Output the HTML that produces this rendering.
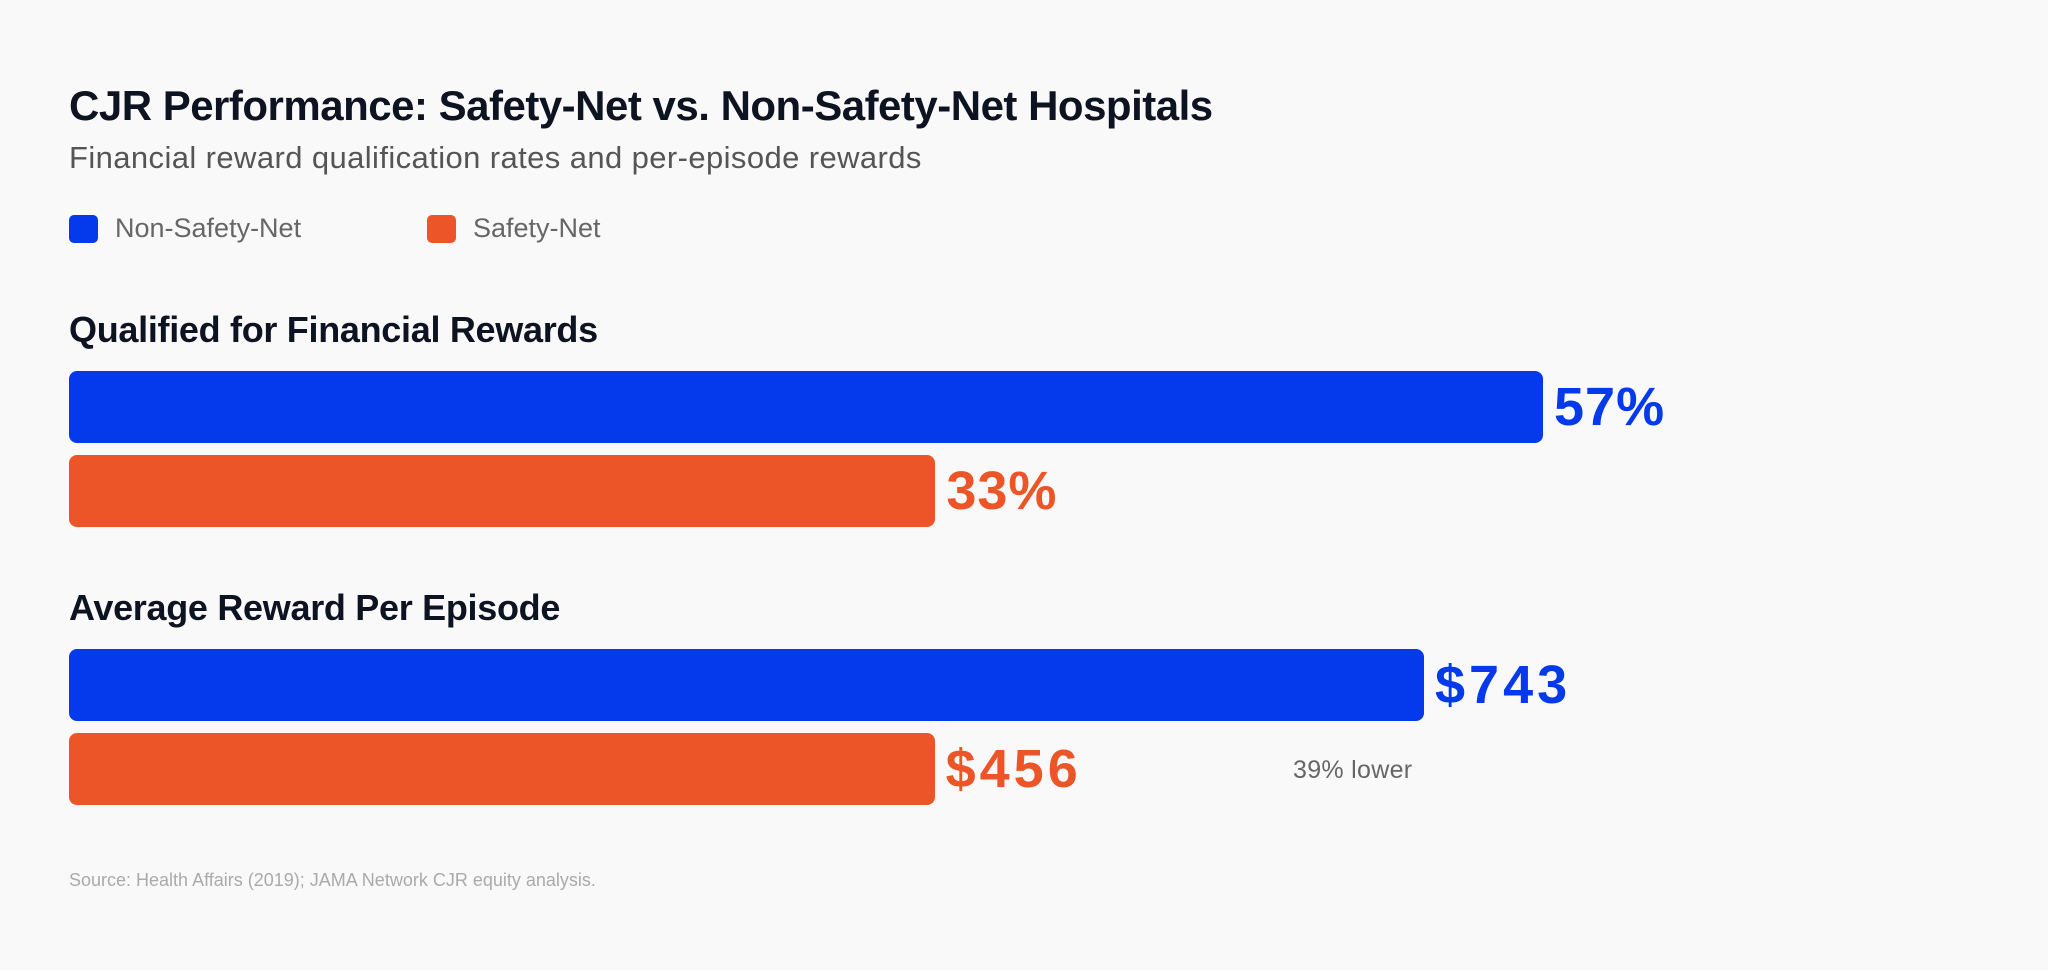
<!DOCTYPE html>
<html><head><meta charset="utf-8"><style>
body{margin:0;width:2048px;height:970px;background:#f9f9f9;font-family:"Liberation Sans",sans-serif;position:relative;overflow:hidden}
.t{position:absolute;white-space:nowrap}
</style></head><body>
<div class="t" style="left:69px;top:82px;font-size:42px;font-weight:bold;color:#0d1321;letter-spacing:-0.5px">CJR Performance: Safety-Net vs. Non-Safety-Net Hospitals</div>
<div class="t" style="left:69px;top:140px;font-size:31px;letter-spacing:0.4px;color:#555">Financial reward qualification rates and per-episode rewards</div>
<div>
<div class="t" style="left:69px;top:215px;width:29px;height:28px;border-radius:5px;background:#0439ec"></div>
<div class="t" style="left:115px;top:213px;font-size:27px;color:#666">Non-Safety-Net</div>
<div class="t" style="left:427px;top:215px;width:29px;height:28px;border-radius:5px;background:#eb5527"></div>
<div class="t" style="left:473px;top:213px;font-size:27px;color:#666">Safety-Net</div>
</div>
<div id="chart"></div>
<div class="t" style="left:1293px;top:756px;font-size:25px;letter-spacing:0.3px;color:#666">39% lower</div>
<div class="t" style="left:69px;top:870px;font-size:18px;color:#aaa">Source: Health Affairs (2019); JAMA Network CJR equity analysis.</div>
<script>
const sections = ["Qualified for Financial Rewards","Average Reward Per Episode"];
const nonSafetyNet = [57, 743];
const safetyNet = [33, 456];
const valueLabels = [["57%","33%"],["$743","$456"]];
const colors=["#0439ec","#eb5527"];
const x0=69, maxW=1474;
const sectionTops=[307,585];
const c=document.getElementById('chart');
sections.forEach((s,i)=>{
  const l=document.createElement('div');
  l.className='t';
  
  
  l.style.cssText=`left:69px;top:${sectionTops[i]+2}px;font-size:36px;font-weight:bold;color:#0d1321;letter-spacing:-0.3px`;
  l.textContent=s;c.appendChild(l);
  const max=Math.max(nonSafetyNet[i],safetyNet[i]);
  const scale=v=>v/max*(i==0?maxW:1355);
  [nonSafetyNet[i],safetyNet[i]].forEach((v,j)=>{
    const top=sectionTops[i]+64+j*84;
    const w=scale(v)+(j==1?(i==0?13:34):0);
    const b=document.createElement('div');
    b.className='t';
    
    
    b.style.cssText=`left:${x0}px;top:${top}px;width:${w}px;height:72px;border-radius:8px;background:${colors[j]}`;
    c.appendChild(b);
    const t=document.createElement('div');
    t.className='t';
    
    
    t.style.cssText=`left:${x0+w+11}px;top:${top+5}px;font-size:54px;font-weight:bold;color:${colors[j]};line-height:62px;letter-spacing:${i==1?4:1}px`;
    t.textContent=valueLabels[i][j];c.appendChild(t);
  });
});
</script>
</body></html>
